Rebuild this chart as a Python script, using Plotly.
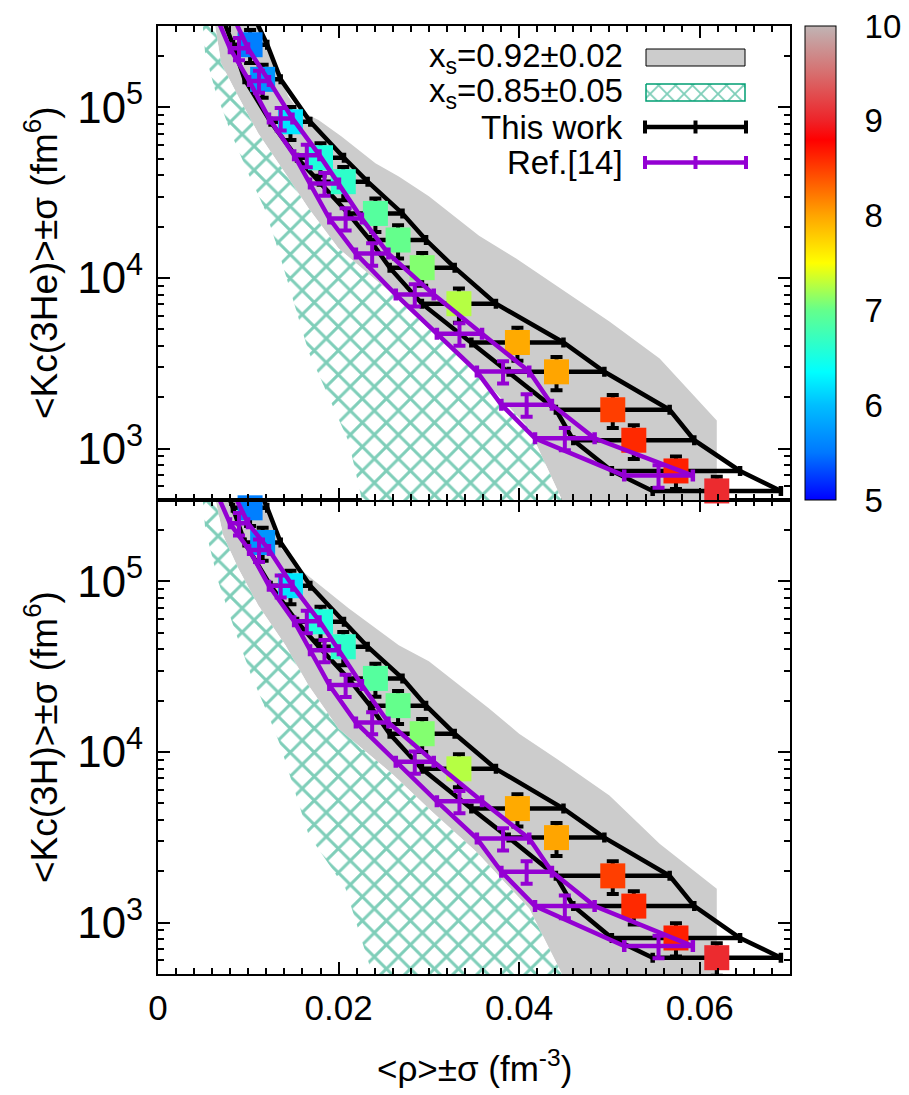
import numpy as np
import plotly.graph_objects as go

# ---------------- data ----------------
# "This work" (rho centre, rho sigma) - same densities in both panels
rho = [0.0083, 0.0102, 0.01159, 0.01467, 0.0180, 0.02052, 0.02408, 0.02659, 0.02926,
       0.03333, 0.03981, 0.04414, 0.05037, 0.0527, 0.05737, 0.06189]
rho_err = [0.0017, 0.0019, 0.0020, 0.0022, 0.0026, 0.0027, 0.0030, 0.0031, 0.0036,
           0.0041, 0.0051, 0.0053, 0.0063, 0.0067, 0.0071, 0.0071]
temperature = [5.3, 5.55, 5.71, 6.21, 6.55, 6.65, 6.9, 7.0, 7.1, 7.26, 7.97, 8.0,
               8.5, 8.6, 8.65, 9.05]
kc_he = [4.0e5, 2.33e5, 1.46e5, 8.24e4, 5.07e4, 3.67e4, 2.39e4, 1.67e4, 1.15e4,
         7.07e3, 4.19e3, 2.82e3, 1.69e3, 1.12e3, 740, 565]
kc_he_err = [8.8e4, 5.1e4, 3.2e4, 1.8e4, 1.1e4, 8.1e3, 5.3e3, 3.7e3, 2.5e3,
             1.6e3, 920, 620, 370, 250, 160, 120]
kc_h = [4.7e5, 2.70e5, 1.69e5, 9.44e4, 5.80e4, 4.14e4, 2.70e4, 1.87e4, 1.28e4,
        7.97e3, 4.66e3, 3.15e3, 1.88e3, 1.25e3, 813, 623]
kc_h_err = [1.0e5, 5.9e4, 3.7e4, 2.1e4, 1.3e4, 9.1e3, 5.9e3, 4.1e3, 2.8e3,
            1.75e3, 1.0e3, 690, 410, 275, 180, 135]

# Ref.[14]
ref_rho = [0.0068, 0.00897, 0.01119, 0.01359, 0.01648, 0.01844, 0.02078, 0.02372,
           0.02844, 0.03339, 0.03822, 0.04083, 0.04506, 0.05544]
ref_rho_err = [0.0009, 0.0010, 0.0011, 0.0013, 0.0014, 0.0016, 0.0018, 0.0018,
               0.0021, 0.0025, 0.0029, 0.0028, 0.0033, 0.0038]
ref_kc_he = [4.0e5, 2.22e5, 1.43e5, 8.62e4, 5.25e4, 3.58e4, 2.23e4, 1.39e4,
             8.0e3, 4.72e3, 2.83e3, 1.81e3, 1.15e3, 695]
ref_kc_he_err = [6.0e4, 3.3e4, 2.1e4, 1.3e4, 7.9e3, 5.4e3, 3.3e3, 2.1e3,
                 1.2e3, 710, 425, 270, 170, 105]
ref_kc_h = [3.9e5, 2.19e5, 1.53e5, 9.44e4, 5.85e4, 3.95e4, 2.47e4, 1.49e4,
            8.77e3, 5.14e3, 3.11e3, 1.99e3, 1.25e3, 729]
ref_kc_h_err = [5.9e4, 3.3e4, 2.3e4, 1.4e4, 8.8e3, 5.9e3, 3.7e3, 2.2e3,
                1.3e3, 770, 465, 300, 190, 110]

# x_s = 0.92 +- 0.02 band (right edge), x_s = 0.85 +- 0.05 band (left / right edges)
gray_he_rho = [0.0108, 0.01111, 0.01278, 0.01444, 0.01556, 0.01778, 0.02033, 0.02408,
               0.02667, 0.03, 0.03556, 0.03967, 0.05, 0.05556, 0.06189, 0.06189]
gray_he_kc = [3.3e5, 2.99e5, 1.81e5, 1.16e5, 9.64e4, 8.43e4, 6.76e4, 4.70e4,
              3.94e4, 3.01e4, 1.77e4, 1.30e4, 5.56e3, 3.37e3, 1.46e3, 450]
hatch_he_left_rho = [0.0049, 0.00522, 0.00633, 0.00811, 0.01, 0.01189, 0.01333,
                     0.01667, 0.02111, 0.02256, 0.0228]
hatch_he_left_kc = [3.3e5, 2.07e5, 1.26e5, 7.04e4, 4.10e4, 2.49e4, 1.45e4,
                    3.71e3, 1.10e3, 495, 450]
hatch_he_right_rho = [0.0062, 0.007, 0.00889, 0.01111, 0.01411, 0.01667, 0.02,
                      0.02589, 0.03033, 0.03522, 0.04111, 0.04478, 0.0452]
hatch_he_right_kc = [3.3e5, 1.81e5, 1.16e5, 7.04e4, 4.10e4, 2.56e4, 1.49e4,
                     8.11e3, 4.85e3, 2.83e3, 1.31e3, 495, 450]

gray_h_rho = [0.0112, 0.01167, 0.01367, 0.01522, 0.02111, 0.02667, 0.03, 0.03667,
              0.04, 0.04411, 0.05, 0.05556, 0.06189, 0.06189]
gray_h_kc = [3.3e5, 2.99e5, 1.56e5, 1.24e5, 6.95e4, 4.22e4, 3.40e4, 1.80e4,
             1.28e4, 9.17e3, 5.56e3, 2.90e3, 1.58e3, 450]
hatch_h_left_rho = [0.0049, 0.00522, 0.00667, 0.00856, 0.01033, 0.01222, 0.01356,
                    0.01667, 0.02078, 0.02333, 0.0240]
hatch_h_left_kc = [3.3e5, 2.05e5, 1.0e5, 5.09e4, 2.81e4, 1.64e4, 1.09e4,
                   3.28e3, 1.58e3, 590, 450]
hatch_h_right_rho = [0.0062, 0.00722, 0.00889, 0.01111, 0.01411, 0.01667, 0.02,
                     0.02589, 0.03033, 0.03522, 0.04111, 0.04478, 0.0452]
hatch_h_right_kc = [3.3e5, 1.86e5, 1.19e5, 7.23e4, 4.22e4, 2.45e4, 1.37e4,
                    7.48e3, 4.48e3, 2.61e3, 1.21e3, 495, 450]

x_ticks = [0, 0.02, 0.04, 0.06]
cbar_ticks = [5, 6, 7, 8, 9, 10]

# ---------------- style ----------------
KMIN, KMAX = 500, 3e5
FONT = "Liberation Sans, Arial, Helvetica, sans-serif"
FS = 35
FS_LEG = 33
FS_YT = 37
FS_CB = 33
BLACK = "black"
PURPLE = "#9400d3"
GREEN = "#009e73"
GRAY = "#cccccc"
LW = 4.5
HATCH = dict(shape="x", fgcolor=GREEN, bgcolor="white", size=17, solidity=0.32)
colorscale = [[0.0, "rgb(0,0,255)"], [0.1, "rgb(0,120,255)"], [0.2, "rgb(0,190,255)"],
              [0.27, "rgb(0,255,255)"], [0.4, "rgb(100,255,140)"], [0.5, "rgb(255,255,0)"],
              [0.6, "rgb(255,165,0)"], [0.76, "rgb(255,0,0)"], [0.8, "rgb(238,35,40)"],
              [0.9, "rgb(215,110,110)"], [1.0, "rgb(192,180,180)"]]

L, R, T, B = 150, 127, 18, 129
W, H = 909, 1095
PW, PH = W - L - R, H - T - B

fig = go.Figure()


def add_panel(xa, ya, g_rho, g_kc, hl_rho, hl_kc, hr_rho, hr_kc, kc, kc_err, rkc, rkc_err, showscale):
    # gray band
    fig.add_trace(go.Scatter(x=list(g_rho) + list(hr_rho)[::-1], y=list(g_kc) + list(hr_kc)[::-1],
                             xaxis=xa, yaxis=ya, mode="lines", fill="toself", fillcolor=GRAY,
                             line=dict(width=0, color=GRAY), hoverinfo="skip", showlegend=False))
    # hatched band
    fig.add_trace(go.Scatter(x=list(hl_rho) + list(hr_rho)[::-1], y=list(hl_kc) + list(hr_kc)[::-1],
                             xaxis=xa, yaxis=ya, mode="lines", fill="toself", fillcolor="white",
                             fillpattern=HATCH,
                             line=dict(width=0, color=GREEN), hoverinfo="skip", showlegend=False))
    # this work: lines through rho-sigma and rho+sigma
    left = [r - e for r, e in zip(rho, rho_err)]
    right = [r + e for r, e in zip(rho, rho_err)]
    for xs in (left, right):
        fig.add_trace(go.Scatter(x=xs, y=kc, xaxis=xa, yaxis=ya, mode="lines",
                                 line=dict(color=BLACK, width=LW), hoverinfo="skip", showlegend=False))
    idx = [i for i, k in enumerate(kc) if k <= KMAX]
    fig.add_trace(go.Scatter(
        x=[rho[i] for i in idx], y=[kc[i] for i in idx], xaxis=xa, yaxis=ya, mode="markers",
        marker=dict(symbol="square", size=25, color=[temperature[i] for i in idx],
                    colorscale=colorscale, cmin=5, cmax=10, line=dict(width=0),
                    showscale=showscale,
                    colorbar=dict(x=(797 - L) / PW, xanchor="left", y=1.0, yanchor="top",
                                  len=0.5, lenmode="fraction", thickness=31, thicknessmode="pixels",
                                  outlinewidth=1, outlinecolor="black", tickvals=cbar_ticks,
                                  ticks="outside", ticklen=22, tickcolor="rgba(0,0,0,0)",
                                  ticklabeloverflow="allow",
                                  tickfont=dict(family=FONT, size=FS_CB, color="black"),
                                  xpad=0, ypad=0)),
        error_x=dict(type="data", array=[rho_err[i] for i in idx], color=BLACK, thickness=LW, width=5),
        error_y=dict(type="data", array=[kc_err[i] for i in idx], color=BLACK, thickness=4, width=6),
        cliponaxis=False, hoverinfo="skip", showlegend=False))
    # Ref.[14]
    rl = [r - e for r, e in zip(ref_rho, ref_rho_err)]
    rr = [r + e for r, e in zip(ref_rho, ref_rho_err)]
    for xs in (rl, rr):
        fig.add_trace(go.Scatter(x=xs, y=rkc, xaxis=xa, yaxis=ya, mode="lines",
                                 line=dict(color=PURPLE, width=LW), hoverinfo="skip", showlegend=False))
    fig.add_trace(go.Scatter(
        x=ref_rho, y=rkc, xaxis=xa, yaxis=ya, mode="markers",
        marker=dict(size=4, color=PURPLE),
        error_x=dict(type="data", array=ref_rho_err, color=PURPLE, thickness=LW, width=6),
        error_y=dict(type="data", array=rkc_err, color=PURPLE, thickness=4, width=6),
        hoverinfo="skip", showlegend=False))


add_panel("x2", "y2", gray_he_rho, gray_he_kc, hatch_he_left_rho, hatch_he_left_kc,
          hatch_he_right_rho, hatch_he_right_kc, kc_he, kc_he_err, ref_kc_he, ref_kc_he_err, True)
add_panel("x", "y", gray_h_rho, gray_h_kc, hatch_h_left_rho, hatch_h_left_kc,
          hatch_h_right_rho, hatch_h_right_kc, kc_h, kc_h_err, ref_kc_h, ref_kc_h_err, False)

# ---------------- legend (drawn in a pixel-coordinate overlay) ----------------
fig.add_trace(go.Scatter(x=[638, 737, 737, 638, 638], y=[76, 76, 93, 93, 76], xaxis="x3", yaxis="y3",
                         mode="lines", fill="toself", fillcolor="white",
                         fillpattern=dict(shape="x", fgcolor=GREEN, bgcolor="white", size=12, solidity=0.28),
                         line=dict(width=1.5, color=GREEN), hoverinfo="skip", showlegend=False))
shapes = [dict(type="rect", xref="x3", yref="y3", x0=638, x1=737, y0=41, y1=58,
               fillcolor=GRAY, line=dict(color="black", width=1))]
for yy, col in ((119, BLACK), (154.5, PURPLE)):
    shapes.append(dict(type="line", xref="x3", yref="y3", x0=637, x1=738, y0=yy, y1=yy,
                       line=dict(color=col, width=LW)))
    for xx in (637, 687.5, 738):
        shapes.append(dict(type="line", xref="x3", yref="y3", x0=xx, x1=xx, y0=yy - 6.5, y1=yy + 6.5,
                           line=dict(color=col, width=4)))
# inner tick dashes of colour box
for v in cbar_ticks[1:-1]:
    yp = 0.5 + (v - 5) / 5 * 0.5
    for xa0, xa1 in ((797, 804), (821, 828)):
        shapes.append(dict(type="line", xref="paper", yref="paper", x0=(xa0 - L) / PW, x1=(xa1 - L) / PW,
                           y0=yp, y1=yp, line=dict(color="black", width=1)))

leg_texts = ["x<sub>s</sub>=0.92±0.02", "x<sub>s</sub>=0.85±0.05", "This work", "Ref.[14]"]
leg_y = [50, 85, 119, 154.5]
annotations = []
for t, yy in zip(leg_texts, leg_y):
    annotations.append(dict(text=t, xref="x3", yref="y3", x=617, y=yy, xanchor="right", yanchor="middle",
                            showarrow=False, font=dict(family=FONT, size=FS_LEG, color="black")))
annotations += [
    dict(text="&lt;Kc(3He)&gt;±σ (fm<sup>6</sup>)", xref="paper", yref="paper", x=(33 - L) / PW, y=0.75,
         textangle=-90, xanchor="center", yanchor="middle", showarrow=False,
         font=dict(family=FONT, size=FS_YT, color="black")),
    dict(text="&lt;Kc(3H)&gt;±σ (fm<sup>6</sup>)", xref="paper", yref="paper", x=(33 - L) / PW, y=0.25,
         textangle=-90, xanchor="center", yanchor="middle", showarrow=False,
         font=dict(family=FONT, size=FS_YT, color="black")),
    dict(text="&lt;ρ&gt;±σ (fm<sup>-3</sup>)", xref="paper", yref="paper", x=0.5, y=(T + PH - 1058) / PH,
         xanchor="center", yanchor="middle", showarrow=False,
         font=dict(family=FONT, size=FS, color="black")),
]

tickfont = dict(family=FONT, size=FS, color="black")
xcommon = dict(range=[0, 0.07], tickvals=x_ticks, ticks="inside", ticklen=12, tickwidth=2, tickcolor="black",
               showline=True, linewidth=2, linecolor="black", mirror="ticks", showgrid=False, zeroline=False,
               minor=dict(dtick=0.002, tick0=0, ticks="inside", ticklen=6, tickwidth=1.5, tickcolor="black",
                          showgrid=False),
               tickfont=tickfont)
ycommon = dict(type="log", range=[np.log10(KMIN), np.log10(KMAX)], dtick=1, exponentformat="power",
               ticks="inside", ticklen=12, tickwidth=2, tickcolor="black",
               showline=True, linewidth=2, linecolor="black", mirror="ticks", showgrid=False, zeroline=False,
               minor=dict(dtick="D1", ticks="inside", ticklen=6, tickwidth=1.5, tickcolor="black", showgrid=False),
               tickfont=tickfont, ticklabelstandoff=6)

fig.update_layout(
    width=W, height=H, margin=dict(l=L, r=R, t=T, b=B, autoexpand=False),
    paper_bgcolor="white", plot_bgcolor="rgba(0,0,0,0)",
    xaxis=dict(domain=[0, 1], anchor="y", ticklabelstandoff=2, **xcommon),
    yaxis=dict(domain=[0, 0.5], anchor="x", **ycommon),
    xaxis2=dict(domain=[0, 1], anchor="y2", showticklabels=False, **xcommon),
    yaxis2=dict(domain=[0.5, 1], anchor="x2", **ycommon),
    xaxis3=dict(domain=[0, 1], anchor="y3", range=[L, W - R], visible=False, fixedrange=True),
    yaxis3=dict(domain=[0, 1], anchor="x3", range=[T + PH, T], visible=False, fixedrange=True),
    shapes=shapes, annotations=annotations, showlegend=False,
    font=dict(family=FONT, size=FS, color="black"),
)

fig.write_html("out.html")
